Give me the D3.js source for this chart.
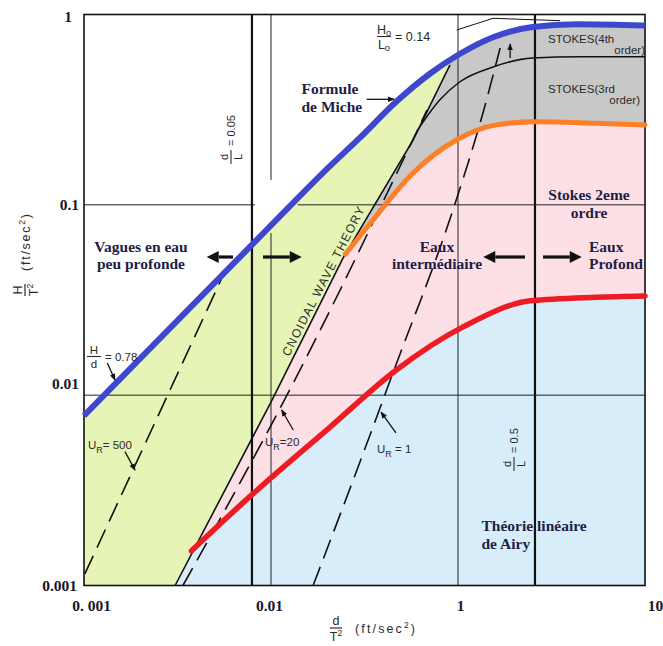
<!DOCTYPE html>
<html>
<head>
<meta charset="utf-8">
<script src="https://cdn.jsdelivr.net/npm/d3@7"></script>
<style>
  html, body { margin: 0; padding: 0; background: #fff; }
  svg { display: block; }
  .serif { font-family: "Liberation Serif", "Times New Roman", serif; font-weight: bold; fill: #1e1e46; font-size: 15.5px; }
  .sans { font-family: "Liberation Sans", Arial, sans-serif; fill: #2a2a2a; }
  .tick { font-family: "Liberation Serif", "Times New Roman", serif; font-weight: bold; fill: #17172e; font-size: 15.5px; }
</style>
</head>
<body>
<svg id="chart" width="663" height="646"></svg>
<script>
// ---- axis ticks ----
const xTickValues = [0.01, 0.1, 1, 10];
const xTickLabels = ["0. 001", "0.01", "1", "10"];
const yTickValues = [0.001, 0.01, 0.1, 1];
const yTickLabels = ["0.001", "0.01", "0.1", "1"];

// ---- breaking limit: H/d = 0.78 (shallow) to H0/L0 = 0.14 (deep) ----
const breakingX = [0.01, 0.1, 0.2, 0.3, 0.47, 0.71, 1.02, 1.54, 2.5, 4.3, 10];
const breakingY = [0.0078, 0.078, 0.155, 0.226, 0.35, 0.49, 0.62, 0.76, 0.86, 0.89, 0.875];

// ---- Stokes 2nd order upper limit ----
const stokes2X = [0.25, 0.35, 0.575, 0.98, 1.6, 2.6, 5.5, 10];
const stokes2Y = [0.0551, 0.083, 0.147, 0.219, 0.263, 0.273, 0.268, 0.263];

// ---- linear (Airy) theory upper limit ----
const linearX = [0.0375, 0.077, 0.207, 0.47, 1.07, 2.43, 5.5, 10];
const linearY = [0.00152, 0.00293, 0.0068, 0.0136, 0.0229, 0.0313, 0.0327, 0.0332];

// ---- Stokes 3rd / 4th order boundary ----
const stokes3X = [0.61, 0.8, 1.02, 1.54, 2.5, 4.5, 10];
const stokes3Y = [0.248, 0.356, 0.442, 0.53, 0.59, 0.60, 0.60];

// ---- cnoidal wave theory boundary ----
const cnoidalX = [0.0307, 0.1, 0.243, 0.575, 0.906];
const cnoidalY = [0.001, 0.0092, 0.0526, 0.219, 0.543];

// ---- Ursell number lines ----
const ursell500X = [0.0101, 0.0545];
const ursell500Y = [0.00115, 0.0411];
const ursell20X = [0.0338, 0.134, 0.5, 0.683];
const ursell20Y = [0.001, 0.012, 0.166, 0.315];
const ursell1X = [0.168, 0.351, 0.449, 0.94, 1.36, 1.68];
const ursell1Y = [0.001, 0.0068, 0.0131, 0.094, 0.304, 0.667];

// ---- relative depth limits d/L ----
const depthLimitX = [0.0791, 2.58];

const svg = d3.select("#chart");
const x = d3.scaleLog().domain([0.01, 10]).range([84, 645]);
const y = d3.scaleLog().domain([0.001, 1]).range([585.5, 14.5]);
const [xL, xR] = x.range();
const [yB, yT] = y.range();

const zip = (xs, ys) => xs.map((v, i) => [v, ys[i]]);
const smooth = d3.line().x(d => x(d[0])).y(d => y(d[1])).curve(d3.curveMonotoneX);
const straight = d3.line().x(d => x(d[0])).y(d => y(d[1]));
const under = d3.area().x(d => x(d[0])).y0(yB).y1(d => y(d[1])).curve(d3.curveMonotoneX);

const breaking = zip(breakingX, breakingY);
const stokes2 = zip(stokes2X, stokes2Y);
const linear = zip(linearX, linearY);
const stokes3 = zip(stokes3X, stokes3Y);
const cnoidal = zip(cnoidalX, cnoidalY);

// clip regions on either side of the cnoidal boundary
const cnPx = cnoidal.map(d => [x(d[0]), y(d[1])]);
const cnTop = cnPx[cnPx.length - 1];
const rightPoly = [...cnPx, [cnTop[0], yT], [xR, yT], [xR, yB]];
const leftPoly = [[xL, yB], ...cnPx, [cnTop[0], yT], [xL, yT]];
const defs = svg.append("defs");
defs.append("clipPath").attr("id", "clipRight").append("path").attr("d", "M" + rightPoly.join("L") + "Z");
defs.append("clipPath").attr("id", "clipLeft").append("path").attr("d", "M" + leftPoly.join("L") + "Z");
defs.append("marker").attr("id", "head").attr("viewBox", "0 0 10 10").attr("refX", 9).attr("refY", 5)
  .attr("markerWidth", 7).attr("markerHeight", 7).attr("orient", "auto-start-reverse").attr("markerUnits", "userSpaceOnUse")
  .append("path").attr("d", "M0,1L10,5L0,9Z").attr("fill", "#111");

// ---- regions ----
const fills = svg.append("g");
const right = fills.append("g").attr("clip-path", "url(#clipRight)");
right.append("path").attr("d", under(breaking)).attr("fill", "#c8c8c8");
right.append("path").attr("d", under(stokes2)).attr("fill", "#fde0e6");
right.append("rect").attr("x", xL).attr("y", yT).attr("width", x(stokes2X[0]) - xL + 0.5).attr("height", yB - yT).attr("fill", "#fde0e6");
right.append("path").attr("d", under(linear)).attr("fill", "#d7eefa");
right.append("rect").attr("x", xL).attr("y", yT).attr("width", x(linearX[0]) - xL + 0.5).attr("height", yB - yT).attr("fill", "#d7eefa");
fills.append("g").attr("clip-path", "url(#clipLeft)")
  .append("path").attr("d", under(breaking)).attr("fill", "#e6f5b6");

// ---- grid ----
const grid = svg.append("g").attr("stroke", "#222").attr("stroke-width", 1).attr("fill", "none");
const vseg = (xv, y0, y1) => grid.append("line").attr("x1", x(xv)).attr("x2", x(xv)).attr("y1", y(y0)).attr("y2", y(y1));
const hseg = (yv, x0, x1) => grid.append("line").attr("y1", y(yv)).attr("y2", y(yv)).attr("x1", x(x0)).attr("x2", x(x1));
vseg(0.1, 1, 0.135); vseg(0.1, 0.0711, 0.001);
vseg(1, 1, 0.001);
hseg(0.1, 0.01, 0.082); hseg(0.1, 0.139, 10);
hseg(0.01, 0.01, 10);
depthLimitX.forEach(v => svg.append("line").attr("x1", x(v)).attr("x2", x(v)).attr("y1", yT).attr("y2", yB)
  .attr("stroke", "#111").attr("stroke-width", 2.2));
svg.append("rect").attr("x", xL).attr("y", yT).attr("width", xR - xL).attr("height", yB - yT)
  .attr("fill", "none").attr("stroke", "#111").attr("stroke-width", 1.6);

// ---- theory boundaries ----
svg.append("path").attr("d", straight(cnoidal)).attr("fill", "none").attr("stroke", "#111").attr("stroke-width", 1.6);
svg.append("path").attr("d", smooth(stokes3)).attr("fill", "none").attr("stroke", "#111").attr("stroke-width", 1.5);
const dashed = svg.append("g").attr("fill", "none").attr("stroke", "#111").attr("stroke-width", 1.6).attr("stroke-dasharray", "20,9");
dashed.append("path").attr("d", straight(zip(ursell500X, ursell500Y)));
dashed.append("path").attr("d", smooth(zip(ursell20X, ursell20Y)));
dashed.append("path").attr("d", smooth(zip(ursell1X, ursell1Y)));

svg.append("path").attr("d", smooth(linear)).attr("fill", "none").attr("stroke", "#ed1c24").attr("stroke-width", 5.5).attr("stroke-linecap", "round");
svg.append("path").attr("d", smooth(stokes2)).attr("fill", "none").attr("stroke", "#ff7f27").attr("stroke-width", 5).attr("stroke-linecap", "round");
svg.append("path").attr("d", smooth(breaking)).attr("fill", "none").attr("stroke", "#3f48cc").attr("stroke-width", 6);

// ---- pointers (in data units) ----
const pointer = (x0, y0, x1, y1) => svg.append("line").attr("x1", x(x0)).attr("y1", y(y0)).attr("x2", x(x1)).attr("y2", y(y1))
  .attr("stroke", "#111").attr("stroke-width", 1.3).attr("marker-end", "url(#head)");
pointer(0.01333, 0.01476, 0.01465, 0.0120);  // H/d
pointer(0.01656, 0.00505, 0.01874, 0.00404); // U_R = 500
pointer(0.1315, 0.00656, 0.114, 0.00836);    // U_R = 20
pointer(0.4659, 0.00633, 0.3875, 0.00815);   // U_R = 1
pointer(0.325, 0.3584, 0.455, 0.3584);       // Miche
pointer(1.9, 0.59, 1.9, 0.70);               // Stokes 4th
svg.append("path").attr("d", straight([[0.984, 0.829], [1.54, 0.955], [3.51, 0.928]]))
  .attr("fill", "none").attr("stroke", "#111").attr("stroke-width", 1);

// big double arrows marking the depth zones
const bigArrow = (x0, x1, yv) => {
  const px0 = x(x0), px1 = x(x1), py = y(yv), dir = Math.sign(px1 - px0), hl = 12;
  svg.append("line").attr("x1", px0).attr("x2", px1 - dir * hl).attr("y1", py).attr("y2", py)
    .attr("stroke", "#111").attr("stroke-width", 3.2);
  svg.append("path").attr("d", `M${px1},${py}L${px1 - dir * hl},${py - 6}L${px1 - dir * hl},${py + 6}Z`).attr("fill", "#111");
};
bigArrow(0.0626, 0.0453, 0.0532);
bigArrow(0.0906, 0.146, 0.0532);
bigArrow(2.28, 1.365, 0.0532);
bigArrow(2.85, 4.59, 0.0532);

// ---- axes ----
const xAxis = svg.append("g").attr("transform", `translate(0,${yB})`)
  .call(d3.axisBottom(x).tickValues(xTickValues).tickSize(0).tickPadding(14).tickFormat((d, i) => xTickLabels[i]));
xAxis.select(".domain").remove();
xAxis.selectAll("text").attr("class", "tick").attr("font-family", null).attr("font-size", null).attr("fill", null)
  .attr("dx", (d, i) => [7, -2, 2, 10][i]);
const yAxis = svg.append("g").attr("transform", `translate(${xL},0)`)
  .call(d3.axisLeft(y).tickValues(yTickValues).tickSize(0).tickPadding(5).tickFormat((d, i) => yTickLabels[i]));
yAxis.select(".domain").remove();
yAxis.selectAll("text").attr("class", "tick").attr("font-family", null).attr("font-size", null).attr("fill", null)
  .attr("dy", (d, i) => [0, -12, 0, 2].map(v => v + 5)[i]).attr("dx", (d, i) => [-2, 0, 0, -7][i]);

// axis titles (stacked fractions)
const fraction = (g, num, size) => {
  g.append("text").attr("class", "sans").attr("font-size", size).attr("text-anchor", "middle").attr("y", -3).text(num);
  g.append("line").attr("x1", -6).attr("x2", 6).attr("y1", 0).attr("y2", 0).attr("stroke", "#2a2a2a").attr("stroke-width", 1.2);
  return g.append("text").attr("class", "sans").attr("font-size", size).attr("text-anchor", "middle").attr("y", size);
};
const unit = (g, len) => {
  const t = g.append("text").attr("class", "sans").attr("font-size", 12.5).attr("x", 19).attr("y", 5).attr("textLength", len).text("(ft/sec");
  t.append("tspan").attr("font-size", 8.5).attr("dy", -5).text("2");
  t.append("tspan").attr("dy", 5).text(")");
};
const xt = svg.append("g").attr("transform", "translate(336,628)");
fraction(xt, "d", 12.5).text("T").append("tspan").attr("font-size", 8.5).attr("dy", -5).text("2");
unit(xt, 60);
const yt = svg.append("g").attr("transform", "translate(25,290) rotate(-90)");
fraction(yt, "H", 12.5).text("T").append("tspan").attr("font-size", 8.5).attr("dy", -5).text("2");
unit(yt, 57);

// ---- annotations ----
const label = (cls, px, py, lines, anchor, lh) => {
  const t = svg.append("text").attr("class", cls).attr("text-anchor", anchor || "start");
  lines.forEach((s, i) => t.append("tspan").attr("x", px).attr("y", py + i * (lh || 17.6)).text(s));
  return t;
};
label("serif", 141, 251.7, ["Vagues en eau", "peu profonde"], "middle");
label("serif", 301.5, 94.3, ["Formule", "de Miche"]);
label("serif", 437, 251.7, ["Eaux", "intermédiaire"], "middle");
label("serif", 589, 251.7, ["Eaux", "Profond"]);
label("serif", 589, 200, ["Stokes 2eme", "ordre"], "middle");
label("serif", 481.5, 531, ["Théorie linéaire", "de Airy"]);

label("sans", 548, 43.3, ["STOKES(4th"]).attr("font-size", 11.5);
label("sans", 645, 54.3, ["order)"], "end").attr("font-size", 11.5);
label("sans", 548, 93.3, ["STOKES(3rd"]).attr("font-size", 11.5);
label("sans", 640, 103.5, ["order)"], "end").attr("font-size", 11.5);

// rotated theory name along the cnoidal boundary
svg.append("text").attr("class", "sans").attr("font-size", 12)
  .attr("transform", "translate(289,357) rotate(-62.8)").attr("textLength", 166).attr("lengthAdjust", "spacing")
  .text("CNOIDAL WAVE THEORY");

// ratio labels
const ratio = (tx, ty, rot, size, num, den, rest, numSub, denSub) => {
  const g = svg.append("g").attr("transform", `translate(${tx},${ty}) rotate(${rot})`);
  const n = g.append("text").attr("class", "sans").attr("font-size", size).attr("text-anchor", "middle").attr("y", -3).text(num);
  if (numSub) n.append("tspan").attr("font-size", size * 0.75).attr("dy", 2).text(numSub);
  g.append("line").attr("x1", -7).attr("x2", 7).attr("stroke", "#2a2a2a").attr("stroke-width", 1.1);
  const d = g.append("text").attr("class", "sans").attr("font-size", size).attr("text-anchor", "middle").attr("y", size - 0.5).text(den);
  if (denSub) d.append("tspan").attr("font-size", size * 0.75).attr("dy", 2).text(denSub);
  g.append("text").attr("class", "sans").attr("font-size", size).attr("x", 11).attr("y", 4).text(rest);
};
ratio(231, 157, -90, 11, "d", "L", "= 0.05");
ratio(514, 464, -90, 11, "d", "L", "= 0.5");
ratio(94, 356.5, 0, 11.5, "H", "d", "= 0.78");
ratio(384, 36.5, 0, 12.5, "H", "L", "= 0.14", "o", "o");

const ur = (px, py, val) => {
  const t = svg.append("text").attr("class", "sans").attr("font-size", 11.5).attr("x", px).attr("y", py).text("U");
  t.append("tspan").attr("font-size", 9).attr("dy", 4).text("R");
  t.append("tspan").attr("dy", -4).text(val);
};
ur(88, 449, "= 500");
ur(265, 446, "=20");
ur(377, 453, " = 1");
</script>
</body>
</html>
